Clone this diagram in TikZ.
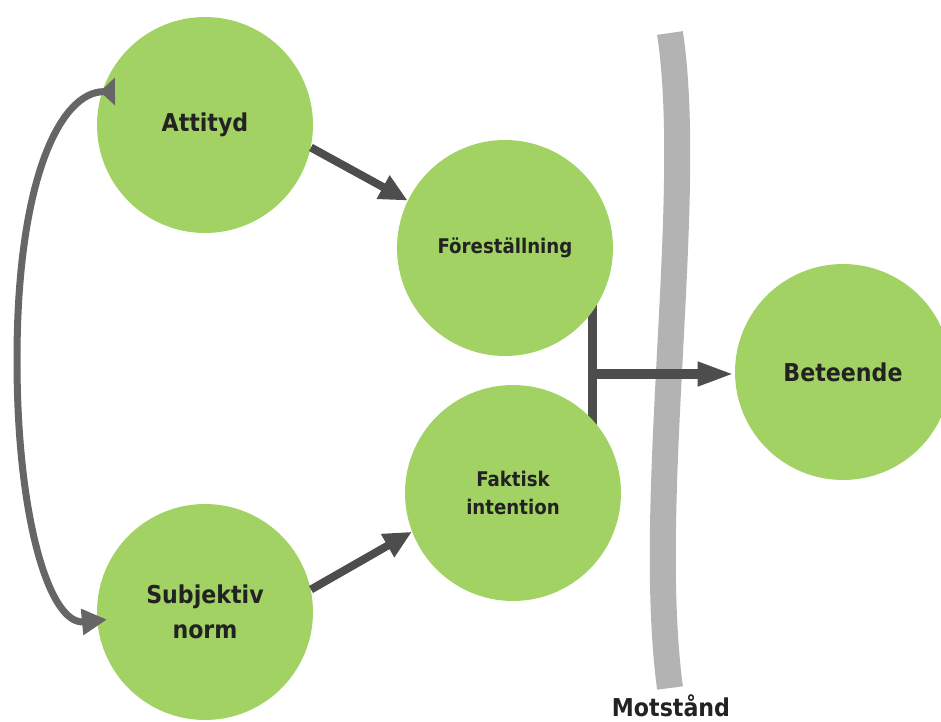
\documentclass[tikz,border=0pt]{standalone}
\usepackage{fontspec}
\setmainfont{DejaVu Sans Condensed}
\usepackage{tikz}
\usetikzlibrary{arrows.meta,positioning,calc}
\definecolor{bubblegreen}{HTML}{A1D263}
\definecolor{arrowgray}{HTML}{4D4D4D}
\definecolor{loopgray}{HTML}{666666}
\definecolor{wallgray}{HTML}{B3B3B3}
\definecolor{labelink}{HTML}{222222}
\tikzset{
  bubble/.style={circle, fill=bubblegreen, minimum size=4.32cm, inner sep=0pt, align=center, text=labelink, font=\bfseries\fontsize{14}{20}\selectfont},
  smallbubble/.style={bubble, font=\bfseries\fontsize{11.5}{15.5}\selectfont},
  line/.style={-{Triangle[length=0.56cm, width=0.5cm]}, line width=0.16cm, arrowgray},
  longline/.style={-{Triangle[length=0.74cm, width=0.44cm]}, line width=0.2cm, arrowgray},
  joinline/.style={line width=0.18cm, arrowgray},
  loopline/.style={{Triangle[reversed, length=0.3cm, width=0.54cm]}-{Triangle[length=0.5cm, width=0.5cm]}, line width=0.14cm, loopgray},
  wall/.style={line width=0.52cm, wallgray},
  walllabel/.style={text=labelink, font=\bfseries\fontsize{14}{20}\selectfont}
}
\begin{document}
\begin{tikzpicture}[x=0.02cm, y=-0.02cm]
  \useasboundingbox (0,0) rectangle (941,721);
  % resistance wall and joining bar (behind the circles)
  \draw[wall] (670,33) .. controls (695,200) and (645,500) .. (670,688);
  \coordinate (jtop) at (592,300);
  \coordinate (jmid) at (592,374);
  \coordinate (jbot) at (592,440);
  \draw[joinline] (jtop) -- (jbot);
  % circles
  \node[bubble] (att) at (205,125) {Attityd};
  \node[bubble] (norm) at (205,612) {Subjektiv\\norm};
  \node[smallbubble] (fore) at (505,248) {Föreställning};
  \node[smallbubble] (fact) at (513,493) {Faktisk\\intention};
  \node[bubble] (bet) at (843,372) {Beteende};
  \node[walllabel] (resist) at (671,706) {Motstånd};
  \coordinate (loopw) at (17,360);
  % arrows
  \draw[line] (att.-12) -- (fore.154);
  \draw[line] (norm.12) -- (fact.201);
  \draw[longline] (jmid) -- (jmid -| bet.west);
  \draw[loopline] ([xshift=0.26cm]att.162) .. controls (60,92) and (17,180) .. (loopw)
    .. controls (17,520) and (50,625) .. ([xshift=0.2cm]norm.184);
\end{tikzpicture}
\end{document}
